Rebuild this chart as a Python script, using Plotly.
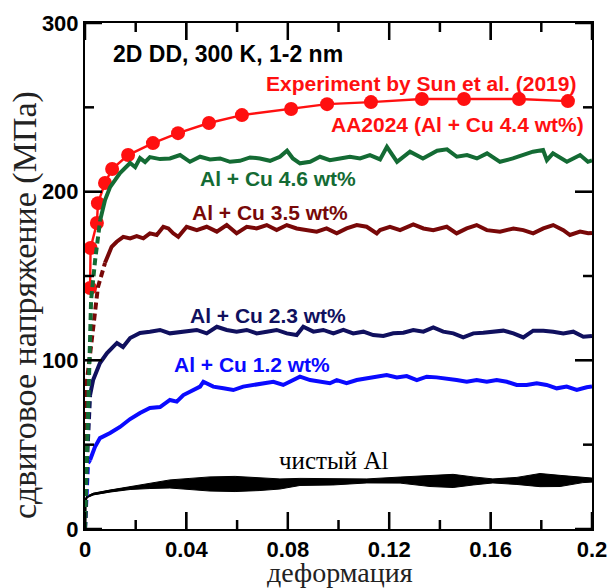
import plotly.graph_objects as go

# ---------------- data ----------------
exp_x = [0.0020, 0.0022, 0.0047, 0.0051, 0.0079, 0.0107, 0.0170, 0.0268, 0.0367, 0.0489,
         0.0619, 0.0813, 0.0955, 0.1128, 0.1329, 0.1495, 0.1712, 0.1905]
exp_y = [142.9, 166.6, 181.4, 193.2, 205.1, 213.4, 221.7, 228.8, 234.7, 240.7,
         245.4, 249.0, 251.9, 253.1, 254.9, 254.9, 254.9, 253.7]

# Al + Cu 4.6 wt%
g46_ex = [0.0, 0.0012, 0.0024, 0.0040, 0.0060]
g46_ey = [0.0, 76.5, 135.7, 159.5, 183.2]
g46_x = [0.0060, 0.0079, 0.0099, 0.0138, 0.0178, 0.0198, 0.0217, 0.0237, 0.0256, 0.0296,
         0.0335, 0.0375, 0.0414, 0.0454, 0.0493, 0.0533, 0.0572, 0.0611, 0.0651, 0.0690,
         0.0730, 0.0769, 0.0797, 0.0820, 0.0848, 0.0888, 0.0927, 0.0966, 0.1006, 0.1045,
         0.1085, 0.1124, 0.1164, 0.1191, 0.1231, 0.1282, 0.1333, 0.1389, 0.1428, 0.1467,
         0.1507, 0.1546, 0.1586, 0.1637, 0.1688, 0.1728, 0.1767, 0.1807, 0.1822, 0.1846,
         0.1901, 0.1953, 0.1984, 0.2000]
g46_y = [183.2, 195.0, 202.7, 211.0, 217.0, 214.5, 219.9, 217.5, 220.5, 219.3,
         219.7, 221.7, 217.7, 220.7, 219.1, 219.7, 217.7, 218.3, 220.3, 219.7,
         218.3, 220.7, 224.3, 219.7, 216.8, 217.7, 220.7, 218.7, 219.7, 220.7,
         219.7, 221.7, 219.1, 226.6, 217.7, 223.7, 219.7, 224.3, 225.1, 220.7,
         221.7, 219.7, 222.7, 217.7, 219.7, 221.7, 223.7, 224.7, 218.7, 222.7,
         217.7, 221.7, 217.7, 218.5]

# Al + Cu 3.5 wt%
g35_ex = [0.0, 0.0008, 0.0028, 0.0040, 0.0051, 0.0079]
g35_ey = [0.0, 88.3, 113.8, 129.8, 143.4, 157.8]
g35_x = [0.0079, 0.0090, 0.0105, 0.0125, 0.0151, 0.0178, 0.0204, 0.0230, 0.0256, 0.0283,
         0.0309, 0.0329, 0.0348, 0.0368, 0.0401, 0.0441, 0.0480, 0.0520, 0.0559, 0.0598,
         0.0638, 0.0677, 0.0717, 0.0756, 0.0796, 0.0835, 0.0875, 0.0914, 0.0953, 0.0993,
         0.1032, 0.1072, 0.1111, 0.1151, 0.1164, 0.1203, 0.1243, 0.1295, 0.1335, 0.1374,
         0.1427, 0.1466, 0.1506, 0.1545, 0.1585, 0.1637, 0.1690, 0.1729, 0.1768, 0.1808,
         0.1847, 0.1887, 0.1913, 0.1953, 0.1985, 0.2000]
g35_y = [157.8, 161.4, 167.3, 170.3, 173.2, 172.3, 173.6, 172.3, 175.3, 174.3,
         179.2, 178.2, 175.3, 173.2, 179.2, 177.2, 179.2, 176.3, 180.2, 175.3,
         179.2, 178.2, 180.2, 177.2, 180.2, 178.2, 177.2, 176.3, 178.2, 175.3,
         178.2, 180.2, 179.2, 175.3, 177.2, 179.2, 177.2, 180.6, 178.2, 177.2,
         179.2, 175.3, 178.2, 180.2, 177.2, 176.3, 178.2, 177.2, 175.3, 178.2,
         180.2, 177.2, 174.3, 176.3, 175.3, 175.5]

# Al + Cu 2.3 wt%
g23_ex = [0.0, 0.0008, 0.0020]
g23_ey = [0.0, 41.0, 79.4]
g23_x = [0.0020, 0.0032, 0.0059, 0.0087, 0.0126, 0.0150, 0.0178, 0.0217, 0.0256, 0.0296,
         0.0335, 0.0388, 0.0441, 0.0480, 0.0520, 0.0559, 0.0598, 0.0638, 0.0677, 0.0717,
         0.0756, 0.0796, 0.0835, 0.0861, 0.0901, 0.0940, 0.0980, 0.1019, 0.1058, 0.1098,
         0.1137, 0.1177, 0.1216, 0.1256, 0.1295, 0.1335, 0.1374, 0.1413, 0.1453, 0.1492,
         0.1532, 0.1571, 0.1611, 0.1650, 0.1690, 0.1729, 0.1768, 0.1808, 0.1847, 0.1887,
         0.1926, 0.1966, 0.2000]
g23_y = [79.4, 88.3, 98.4, 104.3, 110.3, 107.9, 113.2, 116.2, 117.0, 118.0,
         116.0, 117.0, 118.0, 116.0, 119.9, 118.0, 117.0, 118.0, 116.0, 117.0,
         118.0, 116.0, 115.0, 119.9, 117.0, 118.0, 116.0, 118.0, 116.0, 117.0,
         115.0, 114.4, 116.0, 116.4, 118.0, 117.0, 119.5, 117.0, 116.0, 113.6,
         116.0, 116.4, 117.0, 117.6, 116.0, 113.6, 117.6, 117.6, 117.0, 116.0,
         117.0, 114.0, 114.5]

# Al + Cu 1.2 wt%
g12_ex = [0.0, 0.0008, 0.0012, 0.0020]
g12_ey = [0.0, 24.9, 39.0, 40.9]
g12_x = [0.0020, 0.0039, 0.0059, 0.0099, 0.0138, 0.0178, 0.0217, 0.0256, 0.0296, 0.0335,
         0.0362, 0.0388, 0.0414, 0.0454, 0.0467, 0.0506, 0.0546, 0.0585, 0.0624, 0.0664,
         0.0703, 0.0743, 0.0782, 0.0822, 0.0848, 0.0888, 0.0927, 0.0966, 0.0993, 0.1032,
         0.1072, 0.1111, 0.1151, 0.1190, 0.1230, 0.1269, 0.1309, 0.1348, 0.1387, 0.1427,
         0.1466, 0.1506, 0.1545, 0.1585, 0.1624, 0.1664, 0.1703, 0.1742, 0.1782, 0.1821,
         0.1861, 0.1900, 0.1940, 0.1979, 0.2000]
g12_y = [40.9, 48.6, 53.9, 56.9, 60.5, 65.2, 68.8, 71.7, 72.3, 76.5,
         75.5, 79.4, 81.4, 84.4, 87.3, 84.4, 83.4, 82.4, 84.4, 85.4,
         86.4, 87.3, 85.4, 88.3, 90.3, 88.3, 87.3, 86.4, 88.3, 86.4,
         88.3, 89.3, 90.3, 91.3, 89.9, 90.7, 88.3, 90.3, 89.9, 89.3,
         88.3, 87.3, 88.3, 87.3, 88.3, 87.3, 85.4, 85.4, 86.4, 85.4,
         83.4, 84.4, 82.4, 84.0, 84.5]

# pure Al: mean line and half-width of the oscillation band
al_x = [0.0, 0.0002, 0.0008, 0.0032, 0.0099, 0.0178, 0.0256, 0.0335, 0.0414, 0.0493,
        0.0592, 0.0690, 0.0769, 0.0848, 0.0978, 0.1112, 0.1243, 0.1361, 0.1452, 0.1531,
        0.1609, 0.1704, 0.1795, 0.1874, 0.1964, 0.2000]
al_y = [0.0, 17.2, 19.0, 20.7, 22.5, 24.3, 25.5, 26.7, 26.7, 26.7,
        26.7, 26.7, 26.7, 27.9, 27.9, 28.5, 29.0, 28.5, 28.5, 28.5,
        28.5, 28.5, 29.0, 28.5, 29.0, 29.0]
al_amp = [0.0, 0.0, 0.3, 0.5, 0.6, 0.9, 1.5, 2.4, 3.3, 4.2,
          4.5, 3.9, 3.0, 2.1, 1.8, 1.2, 1.8, 3.3, 3.9, 2.4,
          1.2, 2.1, 3.9, 3.3, 1.5, 1.2]

x_ticks = [0, 0.04, 0.08, 0.12, 0.16, 0.2]
x_ticklabels = ["0", "0.04", "0.08", "0.12", "0.16", "0.2"]
x_minor = [0.02, 0.06, 0.10, 0.14, 0.18]
y_ticks = [0, 100, 200, 300]
y_minor = [50, 150, 250]

# ---------------- styles ----------------
C_RED = "#ff1010"
C_GREEN = "#146b34"
C_DRED = "#780808"
C_NAVY = "#10105e"
C_BLUE = "#0a0aff"
C_BLACK = "#000000"
SANS = "Liberation Sans, Arial, sans-serif"
SERIF = "Liberation Serif, Times New Roman, serif"
W, H = 611, 588
ML, MR, MT, MB = 85, 19, 23, 59
X_RANGE, Y_RANGE = [0, 0.2], [0, 300]
MAJOR_LEN, MINOR_LEN = 17, 9   # tick lengths in pixels

fig = go.Figure()

# pure Al band (upper edge -> lower edge, drawn as a closed outline)
band_x = al_x + al_x[::-1]
band_y = [y + a for y, a in zip(al_y, al_amp)] + [y - a for y, a in zip(al_y[::-1], al_amp[::-1])]
fig.add_trace(go.Scatter(x=band_x, y=band_y, mode="lines", fill="toself",
                         fillcolor=C_BLACK, line=dict(color=C_BLACK, width=1),
                         hoverinfo="skip", showlegend=False))
fig.add_trace(go.Scatter(x=al_x, y=al_y, mode="lines",
                         line=dict(color=C_BLACK, width=2.5), showlegend=False))

# experiment
fig.add_trace(go.Scatter(x=exp_x, y=exp_y, mode="lines+markers",
                         line=dict(color=C_RED, width=2.4),
                         marker=dict(color=C_RED, size=14), showlegend=False))

for ex, ey, xs, ys, col in [
    (g12_ex, g12_ey, g12_x, g12_y, C_BLUE),
    (g23_ex, g23_ey, g23_x, g23_y, C_NAVY),
    (g35_ex, g35_ey, g35_x, g35_y, C_DRED),
    (g46_ex, g46_ey, g46_x, g46_y, C_GREEN),
]:
    fig.add_trace(go.Scatter(x=ex, y=ey, mode="lines",
                             line=dict(color=col, width=4, dash="7px,4px"),
                             showlegend=False))
    fig.add_trace(go.Scatter(x=xs, y=ys, mode="lines",
                             line=dict(color=col, width=4), showlegend=False))

# ---------------- inward tick marks on all four sides (backup trace) ----------------
plot_w = W - ML - MR
plot_h = H - MT - MB
x_span = X_RANGE[1] - X_RANGE[0]
y_span = Y_RANGE[1] - Y_RANGE[0]
tx, ty = [], []
for vals, ln in [(x_ticks, MAJOR_LEN), (x_minor, MINOR_LEN)]:
    d = y_span * ln / plot_h
    for v in vals:
        tx += [v, v, None, v, v, None]
        ty += [Y_RANGE[0], Y_RANGE[0] + d, None, Y_RANGE[1], Y_RANGE[1] - d, None]
for vals, ln in [(y_ticks, MAJOR_LEN), (y_minor, MINOR_LEN)]:
    d = x_span * ln / plot_w
    for v in vals:
        tx += [X_RANGE[0], X_RANGE[0] + d, None, X_RANGE[1], X_RANGE[1] - d, None]
        ty += [v, v, None, v, v, None]
fig.add_trace(go.Scatter(x=tx, y=ty, mode="lines", line=dict(color="black", width=2.5),
                         hoverinfo="skip", showlegend=False, connectgaps=False,
                         cliponaxis=False))

# ---------------- annotations ----------------
def ann(text, x, y, color, xanchor="left", size=21, family=SANS, bold=True):
    t = f"<b>{text}</b>" if bold else text
    fig.add_annotation(x=x, y=y, xref="x", yref="y", text=t, showarrow=False,
                       xanchor=xanchor, yanchor="middle",
                       font=dict(family=family, size=size, color=color))

ann("2D DD, 300 K, 1-2 nm", 0.0103, 281.6, "#000000", size=23)
ann("Experiment by Sun et al. (2019)", 0.1945, 264.4, C_RED, xanchor="right")
ann("AA2024 (Al + Cu 4.4 wt%)", 0.1976, 240.1, C_RED, xanchor="right")
ann("Al + Cu 4.6 wt%", 0.0446, 208.0, C_GREEN)
ann("Al + Cu 3.5 wt%", 0.0414, 187.9, C_DRED)
ann("Al + Cu 2.3 wt%", 0.0406, 126.3, C_NAVY)
ann("Al + Cu 1.2 wt%", 0.0343, 97.8, C_BLUE)
ann("чистый Al", 0.0757, 40.9, "#000000", size=25, family=SERIF, bold=False)

# axis titles
fig.add_annotation(x=0.503, y=-0.086, xref="paper", yref="paper", text="деформация",
                   showarrow=False, xanchor="center", yanchor="middle",
                   font=dict(family=SERIF, size=28, color="#222"))
fig.add_annotation(x=-0.118, y=0.443, xref="paper", yref="paper",
                   text="сдвиговое напряжение (МПа)", textangle=-90,
                   showarrow=False, xanchor="center", yanchor="middle",
                   font=dict(family=SERIF, size=34, color="#222"))

# native inward ticks as well (same positions as the backup trace)
axis_common = dict(showline=True, linecolor="black", linewidth=2, mirror="ticks",
                   ticks="inside", ticklen=MAJOR_LEN, tickwidth=2, tickcolor="black",
                   gridcolor="white", zerolinecolor="white", automargin=False,
                   tickfont=dict(family=SANS, size=22, color="black"))
fig.update_xaxes(range=X_RANGE, tickmode="array", tickvals=x_ticks,
                 ticktext=[f"<b>{t}</b>" for t in x_ticklabels], **axis_common)
fig.update_yaxes(range=Y_RANGE, tickmode="array", tickvals=y_ticks,
                 ticktext=[f"<b>{t}</b>" for t in y_ticks], **axis_common)

fig.update_layout(width=W, height=H, margin=dict(l=ML, r=MR, t=MT, b=MB),
                  paper_bgcolor="white", plot_bgcolor="white", showlegend=False)

fig.write_html("out.html")
